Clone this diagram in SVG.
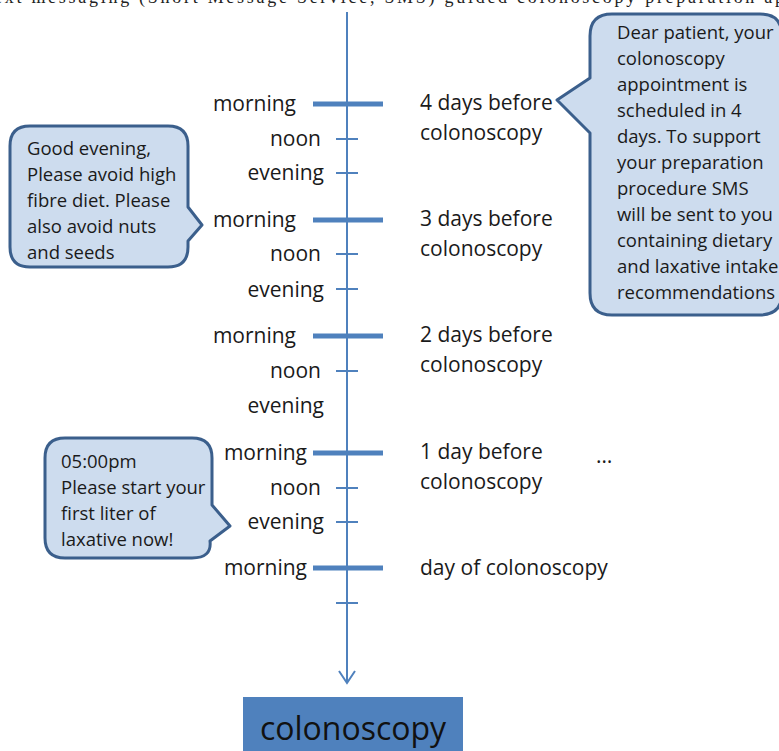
<svg xmlns="http://www.w3.org/2000/svg" width="779" height="751" viewBox="0 0 779 751">
<style>
.lbl{font-family:"Open Sans","Liberation Sans",sans-serif;font-size:21px;fill:#1a1a1a}
.r{text-anchor:end}
.bt{font-family:"Open Sans","Liberation Sans",sans-serif;font-size:18.5px;fill:#1a1a1a}
.bub{fill:#cddcee;stroke:#3b5f8c;stroke-width:3;stroke-linejoin:round}
.thick{stroke:#4f81bd;stroke-width:5}
.thin{stroke:#4f81bd;stroke-width:2}
.cap{font-family:"Liberation Serif",serif;font-size:18px;fill:#222}
</style>
<rect width="779" height="751" fill="#fff"/>
<text class="cap" x="-6" y="3" textLength="790">ext messaging (Short Message Service, SMS) guided colonoscopy preparation ap</text>

<g id="connectors">
<line x1="347" y1="12" x2="347" y2="683" stroke="#4f81bd" stroke-width="2"/>
<polyline points="339,671 347,683 355,671" fill="none" stroke="#4f81bd" stroke-width="2"/>
<line class="thick" x1="313" y1="104" x2="383" y2="104"/>
<line class="thin" x1="336" y1="139" x2="358" y2="139"/>
<line class="thin" x1="336" y1="173" x2="358" y2="173"/>
<line class="thick" x1="313" y1="220" x2="383" y2="220"/>
<line class="thin" x1="336" y1="254" x2="358" y2="254"/>
<line class="thin" x1="336" y1="289" x2="358" y2="289"/>
<line class="thick" x1="313" y1="336" x2="383" y2="336"/>
<line class="thin" x1="336" y1="371" x2="358" y2="371"/>
<line class="thick" x1="313" y1="453" x2="383" y2="453"/>
<line class="thin" x1="336" y1="488" x2="358" y2="488"/>
<line class="thin" x1="336" y1="522" x2="358" y2="522"/>
<line class="thick" x1="313" y1="568" x2="383" y2="568"/>
<line class="thin" x1="336" y1="603" x2="358" y2="603"/>
</g>

<g id="left-labels">
<text class="lbl r" x="296" y="111">morning</text>
<text class="lbl r" x="321" y="146">noon</text>
<text class="lbl r" x="324" y="180">evening</text>
<text class="lbl r" x="296" y="227">morning</text>
<text class="lbl r" x="321" y="261">noon</text>
<text class="lbl r" x="324" y="297">evening</text>
<text class="lbl r" x="296" y="343">morning</text>
<text class="lbl r" x="321" y="378">noon</text>
<text class="lbl r" x="324" y="413">evening</text>
<text class="lbl r" x="307" y="460">morning</text>
<text class="lbl r" x="321" y="495">noon</text>
<text class="lbl r" x="324" y="529">evening</text>
<text class="lbl r" x="307" y="575">morning</text>
</g>

<g id="right-labels">
<text class="lbl" x="420" y="110">4 days before</text>
<text class="lbl" x="420" y="140">colonoscopy</text>
<text class="lbl" x="420" y="226">3 days before</text>
<text class="lbl" x="420" y="256">colonoscopy</text>
<text class="lbl" x="420" y="342">2 days before</text>
<text class="lbl" x="420" y="372">colonoscopy</text>
<text class="lbl" x="420" y="459">1 day before</text>
<text class="lbl" x="420" y="489">colonoscopy</text>
<text class="lbl" x="596" y="463">…</text>
<text class="lbl" x="420" y="575">day of colonoscopy</text>
</g>

<g id="bubble-evening">
<path class="bub" d="M30,126 H168 Q188,126 188,146 V207 L202,225 L188,241 V247 Q188,267 168,267 H30 Q10,267 10,247 V146 Q10,126 30,126 Z"/>
<text class="bt" x="27" y="155">Good evening,</text>
<text class="bt" x="27" y="181">Please avoid high</text>
<text class="bt" x="27" y="207">fibre diet. Please</text>
<text class="bt" x="27" y="233">also avoid nuts</text>
<text class="bt" x="27" y="259">and seeds</text>
</g>

<g id="bubble-intro">
<path class="bub" d="M612,14 H760 Q782,14 782,36 V293 Q782,315 760,315 H612 Q590,315 590,293 V133 L557,100 L590,78 V36 Q590,14 612,14 Z"/>
<text class="bt" x="617" y="39">Dear patient, your</text>
<text class="bt" x="617" y="65">colonoscopy</text>
<text class="bt" x="617" y="91">appointment is</text>
<text class="bt" x="617" y="117">scheduled in 4</text>
<text class="bt" x="617" y="143">days. To support</text>
<text class="bt" x="617" y="169">your preparation</text>
<text class="bt" x="617" y="195">procedure SMS</text>
<text class="bt" x="617" y="221">will be sent to you</text>
<text class="bt" x="617" y="247">containing dietary</text>
<text class="bt" x="617" y="273">and laxative intake</text>
<text class="bt" x="617" y="299">recommendations</text>
</g>

<g id="bubble-laxative">
<path class="bub" d="M65,438 H192 Q212,438 212,458 V505 L230,526 L210,541 Q212,558 192,558 H65 Q45,558 45,538 V458 Q45,438 65,438 Z"/>
<text class="bt" x="61" y="468">05:00pm</text>
<text class="bt" x="61" y="494">Please start your</text>
<text class="bt" x="61" y="520">first liter of</text>
<text class="bt" x="61" y="546">laxative now!</text>
</g>

<g id="colonoscopy">
<rect x="243" y="697" width="220" height="60" fill="#4f81bd"/>
<text x="353" y="740" text-anchor="middle" style="font-family:'Open Sans','Liberation Sans',sans-serif;font-size:32px;fill:#111">colonoscopy</text>
</g>
</svg>
